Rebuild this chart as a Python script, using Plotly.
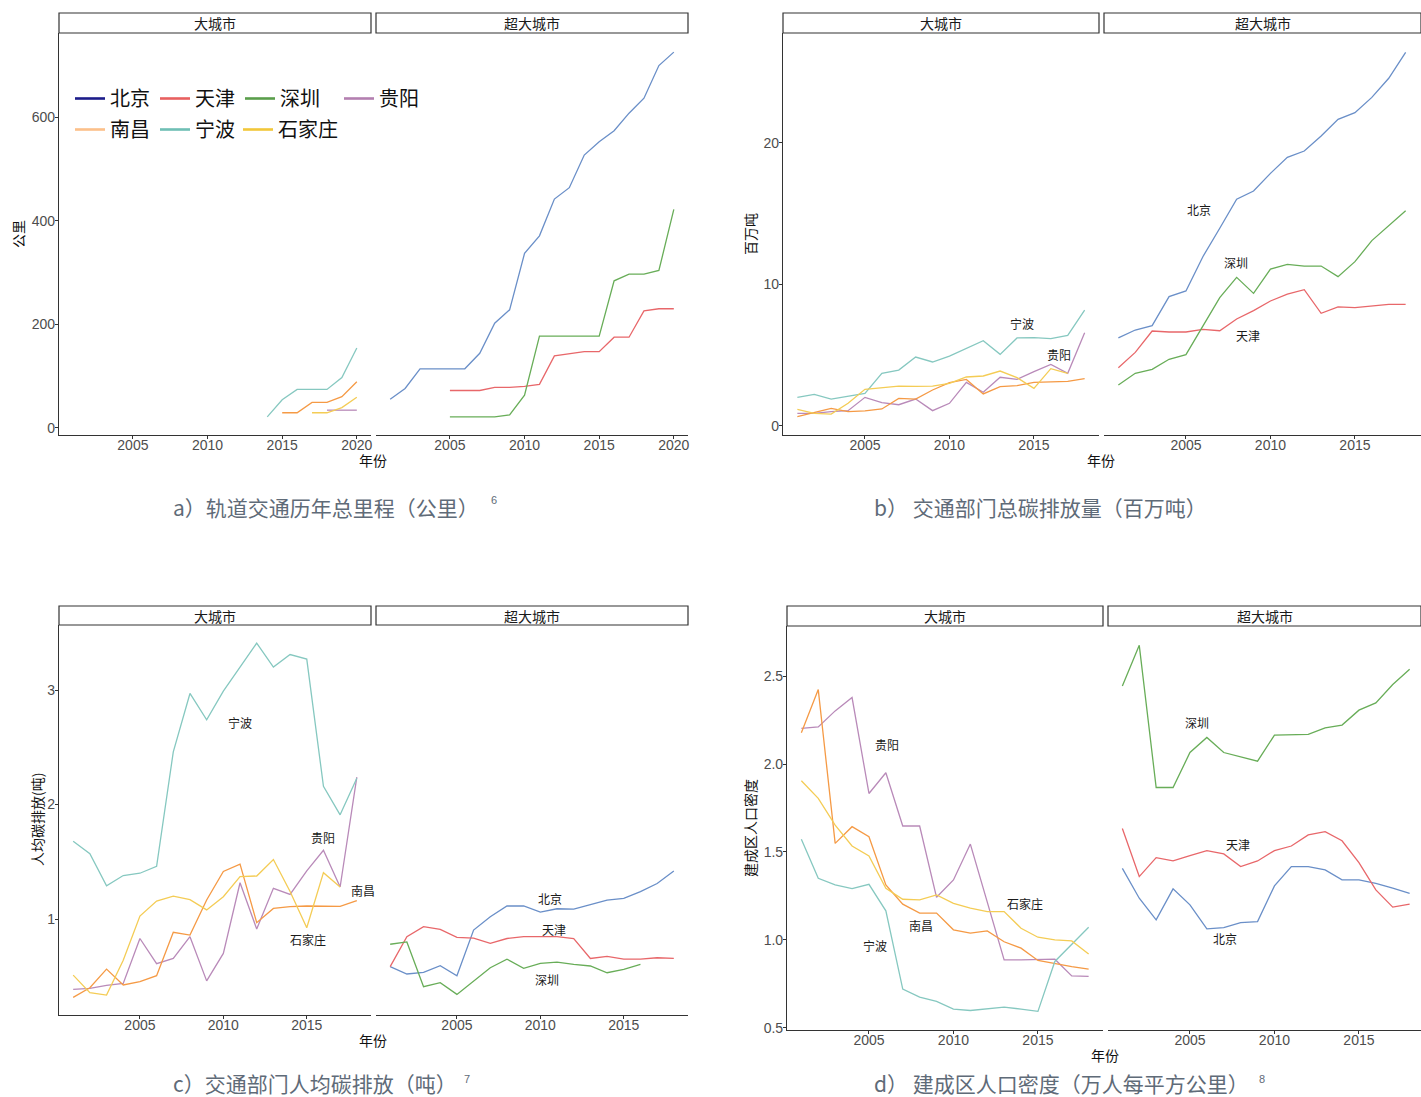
import plotly.graph_objects as go

W, H = 1421, 1097
CJK = "Noto Sans CJK SC"
NUM = "Liberation Sans, Noto Sans CJK SC"

# ---------------- data ----------------
CITIES = ["北京", "天津", "深圳", "贵阳", "南昌", "宁波", "石家庄"]
MEGA = ["北京", "天津", "深圳"]
BIG = ["贵阳", "南昌", "宁波", "石家庄"]

LINE_COLORS = {"北京": "#6a8fc8", "天津": "#e8676a", "深圳": "#68ad58", "贵阳": "#b98ab9",
               "南昌": "#f59a45", "宁波": "#86c8c0", "石家庄": "#f4cc55"}
LEGEND_COLORS = {"北京": "#1c1c8a", "天津": "#e8605f", "深圳": "#5a9e4b", "贵阳": "#b37fb0",
                 "南昌": "#fcc08a", "宁波": "#6fbfb5", "石家庄": "#f2c73a"}

Y01_18 = list(range(2001, 2019))
Y01_17 = list(range(2001, 2018))
Y01_16 = list(range(2001, 2017))

# a) rail transit length (km)
A_BJ_YEARS = list(range(2001, 2021))
A_BJ = [55, 76, 114, 114, 114, 114, 144, 202, 228, 337, 371, 442, 464, 527, 553, 574, 608, 637, 700, 726]
A_TJ_YEARS = list(range(2005, 2021))
A_TJ = [72, 72, 72, 78, 78, 80, 84, 139, 143, 147, 147, 175, 175, 226, 230, 230]
A_SZ_YEARS = list(range(2005, 2021))
A_SZ = [21, 21, 21, 21, 25, 63, 177, 177, 177, 177, 177, 284, 297, 297, 304, 422]
A_NB_YEARS = list(range(2014, 2021))
A_NB = [21, 54, 74, 74, 74, 97, 154]
A_NC_YEARS = list(range(2015, 2021))
A_NC = [29, 29, 49, 49, 60, 89]
A_SJZ_YEARS = list(range(2017, 2021))
A_SJZ = [29, 29, 39, 59]
A_GY_YEARS = list(range(2018, 2021))
A_GY = [34, 34, 34]

# b) transport total emissions (Mt)
B_BJ = [6.2, 6.76, 7.07, 9.12, 9.52, 11.94, 13.95, 16.0, 16.58, 17.83, 18.96, 19.41, 20.47, 21.65, 22.12, 23.2, 24.55, 26.38]
B_TJ = [4.1, 5.18, 6.69, 6.62, 6.62, 6.81, 6.71, 7.54, 8.13, 8.81, 9.3, 9.61, 7.94, 8.39, 8.34, 8.46, 8.57, 8.57]
B_SZ = [2.87, 3.7, 3.98, 4.69, 5.02, 7.07, 9.05, 10.48, 9.35, 11.07, 11.4, 11.28, 11.28, 10.53, 11.59, 13.08, 14.13, 15.19]
B_GY = [0.87, 0.87, 0.99, 1.06, 2.0, 1.63, 1.48, 1.88, 1.06, 1.58, 3.06, 2.36, 3.42, 3.27, 3.82, 4.33, 3.7, 6.57]
B_NC = [0.64, 0.92, 1.22, 0.99, 1.04, 1.18, 1.93, 1.88, 2.52, 3.04, 3.27, 2.24, 2.76, 2.83, 3.06, 3.09, 3.13, 3.32]
B_NB = [2.0, 2.21, 1.88, 2.1, 2.28, 3.7, 3.93, 4.85, 4.5, 4.92, 5.47, 6.0, 5.04, 6.2, 6.22, 6.15, 6.38, 8.17]
B_SJZ = [1.15, 0.87, 0.82, 1.58, 2.57, 2.69, 2.8, 2.78, 2.8, 2.99, 3.44, 3.51, 3.86, 3.39, 2.64, 4.03, 3.7]

# c) per-capita transport emissions (t)
C_BJ = [0.584, 0.52, 0.534, 0.592, 0.505, 0.904, 1.02, 1.114, 1.114, 1.061, 1.09, 1.087, 1.125, 1.166, 1.18, 1.239, 1.31, 1.42]
C_TJ = [0.584, 0.846, 0.933, 0.91, 0.84, 0.834, 0.787, 0.83, 0.846, 0.846, 0.846, 0.83, 0.656, 0.674, 0.65, 0.65, 0.662, 0.656]
C_SZ = [0.78, 0.80, 0.409, 0.444, 0.342, 0.461, 0.575, 0.65, 0.569, 0.613, 0.624, 0.604, 0.59, 0.531, 0.56, 0.604]
C_GY = [0.386, 0.395, 0.42, 0.438, 0.83, 0.61, 0.656, 0.846, 0.46, 0.70, 1.317, 0.913, 1.268, 1.215, 1.42, 1.60, 1.28, 2.24]
C_NC = [0.316, 0.40, 0.563, 0.424, 0.453, 0.505, 0.884, 0.86, 1.166, 1.416, 1.48, 0.968, 1.093, 1.108, 1.114, 1.11, 1.11, 1.16]
C_NB = [1.68, 1.57, 1.29, 1.38, 1.40, 1.46, 2.46, 2.97, 2.74, 2.99, 3.20, 3.41, 3.20, 3.31, 3.27, 2.16, 1.91, 2.23]
C_SJZ = [0.51, 0.357, 0.336, 0.64, 1.026, 1.157, 1.20, 1.17, 1.08, 1.195, 1.37, 1.376, 1.52, 1.24, 0.924, 1.405, 1.28]

# d) built-up area population density (10k people / km2)
D_BJ = [1.407, 1.237, 1.114, 1.29, 1.199, 1.063, 1.07, 1.098, 1.104, 1.307, 1.417, 1.417, 1.398, 1.341, 1.341, 1.322, 1.294, 1.265]
D_TJ = [1.634, 1.36, 1.468, 1.449, 1.479, 1.508, 1.489, 1.417, 1.449, 1.508, 1.534, 1.597, 1.616, 1.564, 1.439, 1.284, 1.186, 1.203]
D_SZ = [2.445, 2.676, 1.867, 1.867, 2.066, 2.152, 2.066, 2.042, 2.017, 2.165, 2.165, 2.169, 2.206, 2.222, 2.307, 2.348, 2.453, 2.54]
D_GY = [2.203, 2.212, 2.303, 2.379, 1.833, 1.951, 1.648, 1.648, 1.242, 1.341, 1.545, 1.212, 0.886, 0.886, 0.886, 0.89, 0.795, 0.792]
D_NC = [2.178, 2.424, 1.549, 1.644, 1.587, 1.3125, 1.203, 1.152, 1.152, 1.057, 1.038, 1.051, 0.989, 0.953, 0.883, 0.864, 0.848, 0.833]
D_NB = [1.572, 1.35, 1.3125, 1.292, 1.316, 1.165, 0.72, 0.674, 0.65, 0.606, 0.598, 0.606, 0.617, 0.606, 0.593, 0.877, 0.977, 1.072]
D_SJZ = [1.905, 1.805, 1.653, 1.534, 1.477, 1.294, 1.231, 1.227, 1.256, 1.208, 1.18, 1.161, 1.161, 1.066, 1.015, 1.0, 0.994, 0.92]

SERIES_A = {"北京": (A_BJ_YEARS, A_BJ), "天津": (A_TJ_YEARS, A_TJ), "深圳": (A_SZ_YEARS, A_SZ),
            "贵阳": (A_GY_YEARS, A_GY), "南昌": (A_NC_YEARS, A_NC), "宁波": (A_NB_YEARS, A_NB),
            "石家庄": (A_SJZ_YEARS, A_SJZ)}
SERIES_B = {"北京": (Y01_18, B_BJ), "天津": (Y01_18, B_TJ), "深圳": (Y01_18, B_SZ),
            "贵阳": (Y01_18, B_GY), "南昌": (Y01_18, B_NC), "宁波": (Y01_18, B_NB),
            "石家庄": (Y01_17, B_SJZ)}
SERIES_C = {"北京": (Y01_18, C_BJ), "天津": (Y01_18, C_TJ), "深圳": (Y01_16, C_SZ),
            "贵阳": (Y01_18, C_GY), "南昌": (Y01_18, C_NC), "宁波": (Y01_18, C_NB),
            "石家庄": (Y01_17, C_SJZ)}
SERIES_D = {"北京": (Y01_18, D_BJ), "天津": (Y01_18, D_TJ), "深圳": (Y01_18, D_SZ),
            "贵阳": (Y01_18, D_GY), "南昌": (Y01_18, D_NC), "宁波": (Y01_18, D_NB),
            "石家庄": (Y01_18, D_SJZ)}

# direct labels (city name, year, value)
LABELS_B = [("宁波", 2014.3, 7.25), ("贵阳", 2016.5, 5.0), ("北京", 2005.8, 15.25),
            ("深圳", 2007.95, 11.5), ("天津", 2008.65, 6.35)]
LABELS_C = [("宁波", 2011.0, 2.72), ("贵阳", 2016.0, 1.71), ("南昌", 2018.4, 1.25),
            ("石家庄", 2015.1, 0.82), ("北京", 2010.55, 1.18), ("天津", 2010.8, 0.91),
            ("深圳", 2010.4, 0.47)]
LABELS_D = [("贵阳", 2006.05, 2.11), ("石家庄", 2014.25, 1.205), ("南昌", 2008.1, 1.08),
            ("宁波", 2005.35, 0.966), ("深圳", 2005.4, 2.237), ("天津", 2007.85, 1.54),
            ("北京", 2007.1, 1.006)]

FACETS = ["大城市", "超大城市"]

PANELS = [
    dict(series=SERIES_A, labels=[], left=(59, 371), right=(376, 688), top=33, bottom=435,
         strip=(13, 33), xr=(2000.05, 2020.95), yr=(-14, 763), xt=[2005, 2010, 2015, 2020],
         yt=[0, 200, 400, 600], yfmt="", ytitle="公里", ytx=18, xtitle_pos=(373, 460),
         caption="a）轨道交通历年总里程（公里）", cap_pos=(171, 507), sup="6", sup_pos=(494, 500)),
    dict(series=SERIES_B, labels=LABELS_B, left=(783, 1099), right=(1104, 1421), top=33, bottom=435,
         strip=(13, 33), xr=(2000.15, 2018.85), yr=(-0.66, 27.75), xt=[2005, 2010, 2015],
         yt=[0, 10, 20], yfmt="", ytitle="百万吨", ytx=750, xtitle_pos=(1101, 460),
         caption="b） 交通部门总碳排放量（百万吨）", cap_pos=(872, 507), sup=None, sup_pos=None),
    dict(series=SERIES_C, labels=LABELS_C, left=(59, 371), right=(376, 688), top=625, bottom=1015,
         strip=(606, 625), xr=(2000.15, 2018.85), yr=(0.162, 3.568), xt=[2005, 2010, 2015],
         yt=[1, 2, 3], yfmt="", ytitle="人均碳排放(吨)", ytx=37, xtitle_pos=(373, 1040),
         caption="c）交通部门人均碳排放（吨）", cap_pos=(171, 1083), sup="7", sup_pos=(467, 1079)),
    dict(series=SERIES_D, labels=LABELS_D, left=(787, 1103), right=(1108, 1421), top=626, bottom=1030,
         strip=(606, 626), xr=(2000.15, 2018.85), yr=(0.487, 2.786), xt=[2005, 2010, 2015],
         yt=[0.5, 1.0, 1.5, 2.0, 2.5], yfmt=".1f", ytitle="建成区人口密度", ytx=750,
         xtitle_pos=(1105, 1055),
         caption="d） 建成区人口密度（万人每平方公里）", cap_pos=(872, 1083), sup="8", sup_pos=(1262, 1079)),
]

# legend layout: (legend id, cities, left px, top px)
LEGEND_ROWS = [("legend", ["北京", "天津", "深圳"], 70, 79),
               ("legend2", ["南昌", "宁波"], 70, 110),
               ("legend3", ["贵阳"], 339, 79),
               ("legend4", ["石家庄"], 238, 110)]


def fx(p):
    return p / W


def fy(p):
    return 1 - p / H


fig = go.Figure()
layout = dict(width=W, height=H, margin=dict(l=0, r=0, t=0, b=0), paper_bgcolor="white",
              plot_bgcolor="white", showlegend=True, template="none")
shapes, annotations = [], []
AX_COLOR = "#333333"
TICK_FONT = dict(family=NUM, size=14, color="#4d4d4d")

idx = 0
for p in PANELS:
    left_w = p["left"][1] - p["left"][0]
    per_px = (p["xr"][1] - p["xr"][0]) / left_w
    for f, facet in enumerate(FACETS):
        idx += 1
        xa, ya = ("xaxis" if idx == 1 else f"xaxis{idx}"), ("yaxis" if idx == 1 else f"yaxis{idx}")
        xref, yref = ("x" if idx == 1 else f"x{idx}"), ("y" if idx == 1 else f"y{idx}")
        x0, x1 = p["left"] if f == 0 else p["right"]
        xr = p["xr"] if f == 0 else (p["xr"][0], p["xr"][0] + (x1 - x0) * per_px)
        layout[xa] = dict(domain=[fx(x0), fx(x1)], range=list(xr), anchor=yref, showgrid=False,
                          zeroline=False, showline=True, linecolor=AX_COLOR, linewidth=1.2,
                          ticks="outside", ticklen=3, tickcolor=AX_COLOR, tickwidth=1,
                          tickvals=p["xt"], tickfont=TICK_FONT, ticklabelstandoff=-6,
                          fixedrange=True)
        layout[ya] = dict(domain=[fy(p["bottom"]), fy(p["top"])], range=list(p["yr"]), anchor=xref,
                          showgrid=False, zeroline=False, fixedrange=True,
                          showline=(f == 0), linecolor=AX_COLOR, linewidth=1.2,
                          ticks="outside" if f == 0 else "", ticklen=3, tickcolor=AX_COLOR,
                          tickvals=p["yt"], tickformat=p["yfmt"], showticklabels=(f == 0),
                          tickfont=TICK_FONT, ticklabelstandoff=-3)
        group = BIG if f == 0 else MEGA
        for city in group:
            yrs, vals = p["series"][city]
            fig.add_trace(go.Scatter(x=yrs, y=vals, mode="lines", xaxis=xref, yaxis=yref,
                                     line=dict(color=LINE_COLORS[city], width=1.3),
                                     showlegend=False, hoverinfo="x+y+name", name=city))
        for name, lx, ly in p["labels"]:
            if name in group:
                annotations.append(dict(x=lx, y=ly, xref=xref, yref=yref, text=name, showarrow=False,
                                        font=dict(family=CJK, size=12, color="#1a1a1a")))
        # strip
        s0, s1 = p["strip"]
        shapes.append(dict(type="rect", xref="paper", yref="paper", x0=fx(x0), x1=fx(x1),
                           y0=fy(s1), y1=fy(s0), line=dict(color="#333333", width=1.2),
                           fillcolor="white", layer="above"))
        annotations.append(dict(x=fx((x0 + x1) / 2), y=fy((s0 + s1) / 2), xref="paper", yref="paper",
                                text=facet, showarrow=False, xanchor="center", yanchor="middle",
                                font=dict(family=CJK, size=14, color="#1a1a1a")))
    # titles
    annotations.append(dict(x=fx(p["ytx"]), y=fy((p["top"] + p["bottom"]) / 2), xref="paper", yref="paper",
                            text=p["ytitle"], textangle=-90, showarrow=False, xanchor="center",
                            yanchor="middle", font=dict(family=CJK, size=14, color="#111111")))
    annotations.append(dict(x=fx(p["xtitle_pos"][0]), y=fy(p["xtitle_pos"][1]), xref="paper", yref="paper",
                            text="年份", showarrow=False, xanchor="center", yanchor="middle",
                            font=dict(family=CJK, size=14, color="#111111")))
    annotations.append(dict(x=fx(p["cap_pos"][0]), y=fy(p["cap_pos"][1]), xref="paper", yref="paper",
                            text=p["caption"], showarrow=False, xanchor="left", yanchor="middle",
                            font=dict(family=CJK, size=21, color="#5f6b78")))
    if p["sup"]:
        annotations.append(dict(x=fx(p["sup_pos"][0]), y=fy(p["sup_pos"][1]), xref="paper", yref="paper",
                                text=p["sup"], showarrow=False, xanchor="center", yanchor="middle",
                                font=dict(family=NUM, size=11, color="#5f6b78")))

# legend entries (panel a)
for leg_id, cities, lx, ly in LEGEND_ROWS:
    for city in cities:
        fig.add_trace(go.Scatter(x=[None], y=[None], mode="lines", name=city, xaxis="x", yaxis="y",
                                 line=dict(color=LEGEND_COLORS[city], width=2.6), showlegend=True,
                                 legend=leg_id))
    layout[leg_id] = dict(x=fx(lx), y=fy(ly), xanchor="left", yanchor="top", orientation="h",
                          bgcolor="rgba(0,0,0,0)", font=dict(family=CJK, size=20, color="#111111"),
                          itemclick=False, itemdoubleclick=False, borderwidth=0)

layout["shapes"] = shapes
layout["annotations"] = annotations
fig.update_layout(**layout)
fig.write_html("out.html", post_script="document.body.style.margin='0px';",
               config={"displayModeBar": False})
